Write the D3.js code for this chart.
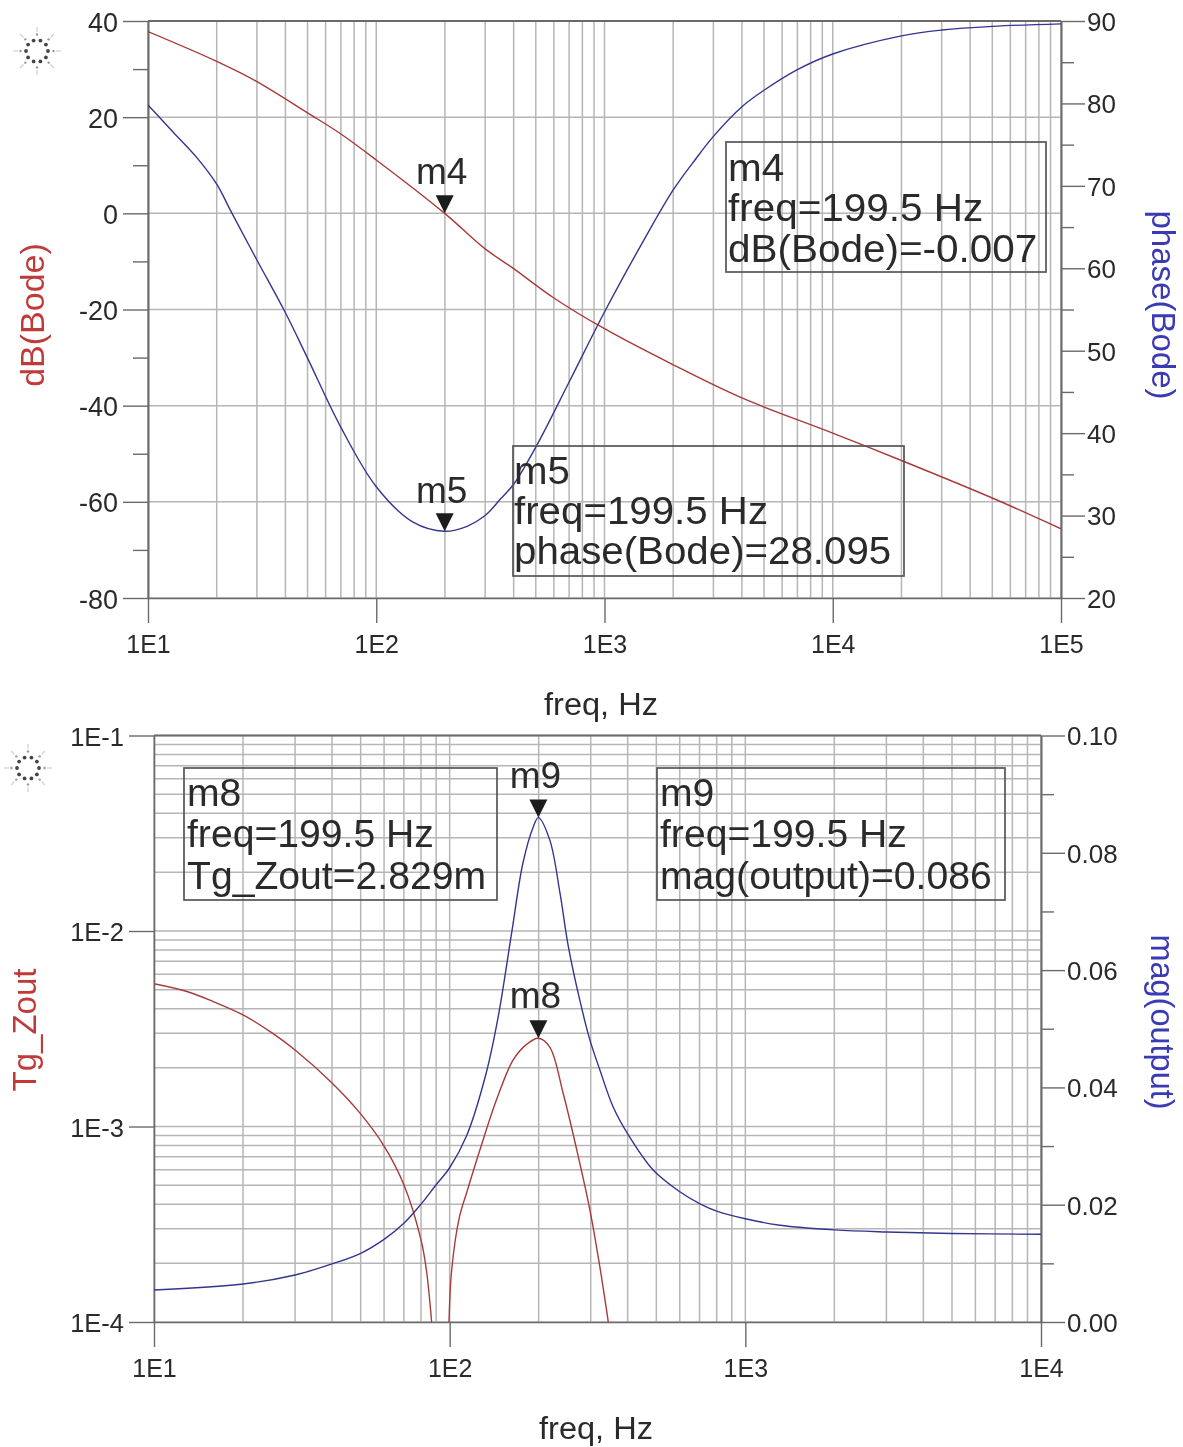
<!DOCTYPE html>
<html><head><meta charset="utf-8">
<script src="https://cdn.jsdelivr.net/npm/d3@7/dist/d3.min.js"></script>
<style>
html,body{margin:0;padding:0;background:#fff}
svg{display:block;filter:blur(0.45px)}
text{font-family:"Liberation Sans",Arial,sans-serif}
</style></head><body>
<svg id="c" width="1183" height="1447"></svg>
<script>
// ---- Top panel data (Bode) ----
const bodeDbFreq  = [10,20,30,50,70,100,199.5,300,400,600,1000,2000,4000,10000,20000,50000,100000];
const bodeDb      = [37.8,31.6,27.4,20.9,16.5,11.1,-0.007,-7.4,-11.5,-17.6,-24,-31.5,-38.4,-45.7,-51.4,-59.2,-65.6];
const bodePhFreq  = [10,12.9,16.4,20,23,30,40,50,70,100,145,199.5,250,300,350,400,500,700,1000,1500,2000,2500,3000,4000,5000,7000,10000,20000,30000,50000,100000];
const bodePhase   = [79.8,76.5,73.4,70.2,67,61,54.6,49.1,40.7,33.5,29.2,28.095,28.7,30,32,33.8,38.3,46.2,54.7,63.6,69.5,73.2,76,79.6,81.6,84.1,86,88.2,88.9,89.35,89.65];
// ---- Bottom panel data ----
const zoutLoFreq  = [10,13,16,20,25,30,40,50,60,70,80,83.4,86.9];
const zoutLo      = [5.37e-3,4.89e-3,4.33e-3,3.72e-3,3.02e-3,2.46e-3,1.67e-3,1.16e-3,7.94e-4,5.04e-4,2.63e-4,1.85e-4,1e-4];
const zoutHiFreq  = [99.5,101.6,108,114,126.6,144,164,182,199.5,218,242,269,298,322,344];
const zoutHi      = [1e-4,1.85e-4,3.47e-4,4.56e-4,7.6e-4,1.37e-3,2.19e-3,2.63e-3,2.829e-3,2.55e-3,1.48e-3,7.6e-4,3.75e-4,1.92e-4,1e-4];
const magFreq     = [10,20,30,40,50,60,70,80,90,100,114,133,146,162,177,192,199.5,218,236,252,276,298,322,357,402,488,600,700,800,1000,1310,2000,3000,5000,10000];
const magOut      = [.00546,.00648,.00802,.0099,.01172,.0141,.01683,.0201,.0234,.0263,.0317,.0425,.0521,.0663,.0783,.0845,.086,.0822,.0732,.064,.0547,.0481,.043,.0367,.0319,.0259,.0222,.0202,.0189,.0176,.0165,.0157,.01535,.0151,.01495];
// ---- Ticks ----
const topXTicks   = [10,100,1000,10000,100000];
const topXLabels  = ["1E1","1E2","1E3","1E4","1E5"];
const dbMajor     = [40,20,0,-20,-40,-60,-80];
const dbMinor     = [30,10,-10,-30,-50,-70];
const phMajor     = [90,80,70,60,50,40,30,20];
const phMinor     = [85,75,65,55,45,35,25];
const botXTicks   = [10,100,1000,10000];
const botXLabels  = ["1E1","1E2","1E3","1E4"];
const zMajor      = [1e-1,1e-2,1e-3,1e-4];
const zLabels     = ["1E-1","1E-2","1E-3","1E-4"];
const magMajor    = [.10,.08,.06,.04,.02,0];
const magMinor    = [.09,.07,.05,.03,.01];
const minorMults  = [2,3,4,5,6,7,8,9];
// ---- Marker readouts ----
const markerFreq  = 199.5;
const boxM4 = ["m4","freq=199.5 Hz","dB(Bode)=-0.007"];
const boxM5 = ["m5","freq=199.5 Hz","phase(Bode)=28.095"];
const boxM8 = ["m8","freq=199.5 Hz","Tg_Zout=2.829m"];
const boxM9 = ["m9","freq=199.5 Hz","mag(output)=0.086"];

const RED="#a83a3a", BLUE="#35358f", GRID="#b6b6b6", AX="#6a6a6a", TXT="#2a2a2a";
const svg=d3.select("#c");

function decadeMinors(lo,hi){const o=[];for(let d=lo;d<hi;d*=10)minorMults.forEach(m=>o.push(d*m));return o;}

function panel(p){
  const g=svg.append("g");
  const x=d3.scaleLog().domain(p.xDomain).range([p.l,p.r]);
  const yL=p.yLeft, yR=p.yRight;
  // grid
  const vs=decadeMinors(p.xDomain[0],p.xDomain[1]).concat(p.xTicks);
  g.append("g").selectAll("line").data(vs).join("line")
    .attr("x1",d=>x(d)).attr("x2",d=>x(d)).attr("y1",p.t).attr("y2",p.b)
    .attr("stroke",GRID).attr("stroke-width",1.5);
  g.append("g").selectAll("line").data(p.hGrid).join("line")
    .attr("x1",p.l).attr("x2",p.r).attr("y1",d=>yL(d)).attr("y2",d=>yL(d))
    .attr("stroke",GRID).attr("stroke-width",1.5);
  // axes
  function style(a,size,dy){
    a.select(".domain").attr("stroke",AX).attr("stroke-width",1.6);
    a.selectAll(".tick line").attr("stroke",AX).attr("stroke-width",1.4);
    a.selectAll("text").attr("fill",TXT).attr("transform",`translate(0,${dy||0})`)
      .style("font-size",size+"px").style("font-family",'"Liberation Sans",Arial,sans-serif');
  }
  const ax=(fn,yOrX,vals,sz,fmt,pad)=>fn(yOrX).tickValues(vals).tickSize(sz).tickSizeOuter(0).tickPadding(pad||3).tickFormat(fmt);
  g.append("g").attr("transform",`translate(${p.l},0)`).call(ax(d3.axisLeft,yL,p.lMajor,25,p.lFmt,5)).call(s=>style(s,p.lSize,1.5));
  if(p.lMinor.length) g.append("g").attr("transform",`translate(${p.l},0)`).call(ax(d3.axisLeft,yL,p.lMinor,15,"")).call(s=>style(s,26));
  g.append("g").attr("transform",`translate(${p.r},0)`).call(ax(d3.axisRight,yR,p.rMajor,24,p.rFmt,2)).call(s=>style(s,26,1));
  g.append("g").attr("transform",`translate(${p.r},0)`).call(ax(d3.axisRight,yR,p.rMinor,13,"")).call(s=>style(s,26));
  g.append("g").attr("transform",`translate(0,${p.b})`).call(ax(d3.axisBottom,x,p.xTicks,25,(d,i)=>p.xLabels[i],5)).call(s=>style(s,25,7));
  g.append("line").attr("x1",p.l).attr("x2",p.r).attr("y1",p.t).attr("y2",p.t).attr("stroke",AX).attr("stroke-width",1.8);
  // curves
  const clip="clip"+p.id;
  svg.append("clipPath").attr("id",clip).append("rect").attr("x",p.l).attr("y",p.t-1).attr("width",p.r-p.l).attr("height",p.b-p.t+1);
  p.curves.forEach(c=>{
    const line=d3.line().x(d=>x(d[0])).y(d=>c.y(d[1])).curve(d3.curveCatmullRom.alpha(0.5));
    g.append("path").datum(d3.zip(c.f,c.v)).attr("d",line).attr("fill","none")
      .attr("stroke",c.color).attr("stroke-width",1.4).attr("clip-path",`url(#${clip})`);
  });
  // markers
  p.markers.forEach(m=>{
    const mx=x(markerFreq), my=m.y(m.v);
    g.append("path").attr("d",d3.line()([[mx-9,my-18],[mx+9,my-18],[mx,my]])+"Z").attr("fill","#1c1c1c");
    g.append("text").attr("x",mx-3).attr("y",m.ly).attr("text-anchor","middle").attr("fill",TXT)
      .style("font-size","37px").text(m.name);
  });
  // readout boxes
  p.boxes.forEach(b=>{
    g.append("rect").attr("x",b.x).attr("y",b.y).attr("width",b.w).attr("height",b.h)
      .attr("fill","none").attr("stroke","#555").attr("stroke-width",1.7);
    b.lines.forEach((t,i)=>{
      g.append("text").attr("transform",`translate(${b.x+b.tx},${b.y+b.base[i]}) scale(${b.sx},1)`)
        .attr("fill",TXT).style("font-size","38px").text(t);
    });
  });
  // titles
  p.titles.forEach(t=>{
    g.append("text").attr("transform",`translate(${t.x},${t.y}) rotate(${t.rot})`).attr("text-anchor","middle")
      .attr("fill",t.color).style("font-size",t.size+"px").text(t.text);
  });
  g.append("text").attr("transform",`translate(${p.xt[0]},${p.xt[1]}) scale(1.05,1)`).attr("text-anchor","middle")
    .attr("fill",TXT).style("font-size","31px").text("freq, Hz");
  // logo
  const lg=g.append("g").attr("transform",`translate(${p.logo[0]},${p.logo[1]})`);
  const ring=d3.range(10).map(i=>i*36), rays=d3.range(8).map(i=>i*45);
  lg.selectAll(".a").data(ring).join("circle").attr("class","a").attr("r",1.9).attr("fill","#444")
    .attr("cx",a=>11*Math.cos(a*Math.PI/180)).attr("cy",a=>11*Math.sin(a*Math.PI/180));
  lg.selectAll(".b").data(rays).join("circle").attr("class","b").attr("r",1.2).attr("fill","#999")
    .attr("cx",a=>16.5*Math.cos(a*Math.PI/180)).attr("cy",a=>16.5*Math.sin(a*Math.PI/180));
  lg.selectAll(".c").data(rays).join("line").attr("class","c").attr("stroke","#d0d0d0").attr("stroke-width",1.2)
    .attr("x1",a=>19*Math.cos(a*Math.PI/180)).attr("y1",a=>19*Math.sin(a*Math.PI/180))
    .attr("x2",a=>24*Math.cos(a*Math.PI/180)).attr("y2",a=>24*Math.sin(a*Math.PI/180));
}

// top panel
const yDb=d3.scaleLinear().domain([-80,40]).range([598,21]);
const yPh=d3.scaleLinear().domain([20,90]).range([598,21]);
panel({id:"t",l:148,r:1061,t:21,b:598,xDomain:[10,100000],xTicks:topXTicks,xLabels:topXLabels,
  yLeft:yDb,yRight:yPh,hGrid:dbMajor,lMajor:dbMajor,lMinor:dbMinor,lSize:27,lFmt:d=>d3.format("d")(d).replace("−","-"),
  rMajor:phMajor,rMinor:phMinor,rFmt:d=>d,
  curves:[{f:bodeDbFreq,v:bodeDb,y:yDb,color:RED},{f:bodePhFreq,v:bodePhase,y:yPh,color:BLUE}],
  markers:[{name:"m4",v:bodeDb[6],y:yDb,ly:184},{name:"m5",v:bodePhase[11],y:yPh,ly:503}],
  boxes:[{x:726,y:142,w:320,h:130,tx:2,sx:1.065,base:[39,79,120],lines:boxM4},
         {x:513,y:446,w:391,h:130,tx:1,sx:1.06,base:[38,78,118],lines:boxM5}],
  titles:[{x:44,y:315,rot:-90,size:34,color:"#c03a3a",text:"dB(Bode)"},{x:1152,y:305,rot:90,size:33,color:"#3a3ab4",text:"phase(Bode)"}],
  xt:[601,715],logo:[37,51]});

// bottom panel
const yZ=d3.scaleLog().domain([1e-4,1e-1]).range([1322,735.5]);
const yM=d3.scaleLinear().domain([0,.10]).range([1322,735.5]);
const zGrid=decadeMinors(1e-4,1e-1).concat(zMajor);
panel({id:"b",l:154,r:1041,t:735.5,b:1322,xDomain:[10,10000],xTicks:botXTicks,xLabels:botXLabels,
  yLeft:yZ,yRight:yM,hGrid:zGrid,lMajor:zMajor,lMinor:[],lSize:25.5,lFmt:(d,i)=>zLabels[i],
  rMajor:magMajor,rMinor:magMinor,rFmt:d=>d3.format(".2f")(d),
  curves:[{f:zoutLoFreq,v:zoutLo,y:yZ,color:RED},{f:zoutHiFreq,v:zoutHi,y:yZ,color:RED},{f:magFreq,v:magOut,y:yM,color:BLUE}],
  markers:[{name:"m9",v:magOut[16],y:yM,ly:788},{name:"m8",v:zoutHi[8],y:yZ,ly:1008}],
  boxes:[{x:184,y:768,w:313,h:132,tx:3,sx:1.03,base:[38,79,121],lines:boxM8},
         {x:657,y:768,w:348,h:132,tx:3,sx:1.03,base:[38,79,121],lines:boxM9}],
  titles:[{x:36,y:1030,rot:-90,size:33,color:"#c03a3a",text:"Tg_Zout"},{x:1151,y:1022,rot:90,size:32.5,color:"#3a3ab4",text:"mag(output)"}],
  xt:[596,1439],logo:[28,768]});
</script>
</body></html>
